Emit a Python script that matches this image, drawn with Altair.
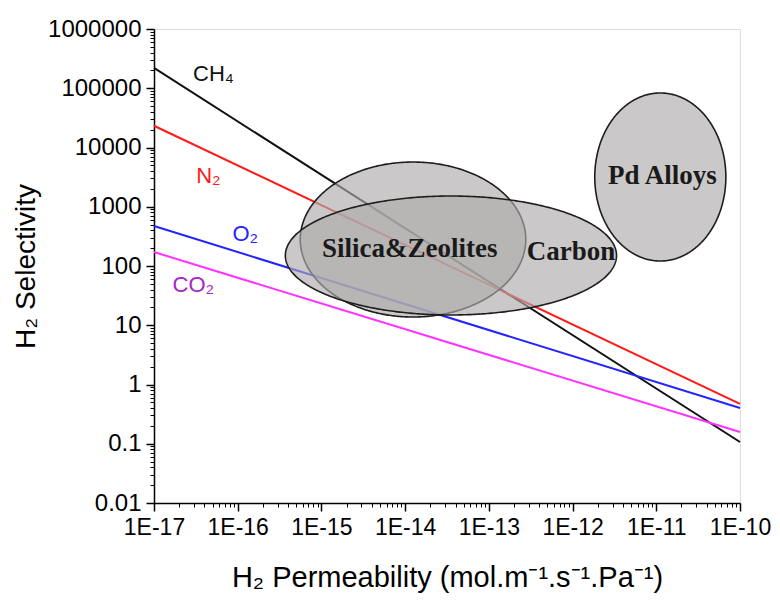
import altair as alt
import numpy as np
import pandas as pd

# ---- data ----
x_ends = [1e-17, 1e-10]
ch4 = [2.2e5, 0.107]
n2 = [2.33e4, 0.47]
o2 = [473.0, 0.40]
co2 = [172.0, 0.158]

series_names = ["CH4", "N2", "O2", "CO2"]
series_values = [ch4, n2, o2, co2]
series_colors = ["#111111", "#ff1a1a", "#2424ff", "#ff33ff"]

label_text = ["CH₄", "N₂", "O₂", "CO₂"]
label_logx = [-16.29, -16.35, -15.91, -16.53]
label_logy = [5.24, 3.52, 2.54, 1.68]
label_colors = ["#111111", "#ff1a1a", "#2424ff", "#a524c8"]

region_names = ["Silica&Zeolites", "Carbon", "Pd Alloys"]
region_cx = [-13.906, -13.453, -10.952]   # log10 permeability centre
region_rx = [1.347, 1.978, 0.783]         # decades
region_cy = [2.447, 2.177, 3.502]         # log10 selectivity centre
region_ry = [1.308, 1.004, 1.418]
region_label_logx = [-13.946, -12.02, -10.927]
region_label_logy = [2.287, 2.236, 3.519]

x_ticks = [1e-17, 1e-16, 1e-15, 1e-14, 1e-13, 1e-12, 1e-11, 1e-10]
y_ticks = [0.01, 0.1, 1, 10, 100, 1000, 10000, 100000, 1000000]

# ---- tables ----
line_rows = []
for name, vals, col in zip(series_names, series_values, series_colors):
    for xv, yv in zip(x_ends, vals):
        line_rows.append({"gas": name, "perm": xv, "sel": yv, "color": col})
lines_df = pd.DataFrame(line_rows)

labels_df = pd.DataFrame({
    "text": label_text,
    "perm": [10 ** v for v in label_logx],
    "sel": [10 ** v for v in label_logy],
    "color": label_colors,
})

reg_labels_df = pd.DataFrame({
    "text": region_names,
    "perm": [10 ** v for v in region_label_logx],
    "sel": [10 ** v for v in region_label_logy],
})

minor_x = [k * 10.0 ** e for e in range(-17, -10) for k in range(2, 10)]
minor_y = [k * 10.0 ** e for e in range(-2, 6) for k in range(2, 10)]

xscale = alt.Scale(type="log", domain=[1e-17, 1e-10], nice=False)
yscale = alt.Scale(type="log", domain=[0.01, 1e6], nice=False)

FONT = "Liberation Sans"

x_major = alt.Axis(
    values=x_ticks, orient="bottom", grid=False, tickSize=8, tickWidth=1.5,
    tickColor="black", domainColor="black", domainWidth=1.5,
    labelFont=FONT, labelFontSize=23, labelColor="black", labelPadding=5,
    labelFlush=False, labelOverlap=False,
    labelExpr="'1E' + round(log(datum.value)/LN10)",
    title="H₂ Permeability (mol.m⁻¹.s⁻¹.Pa⁻¹)",
    titleFont=FONT, titleFontSize=29, titleFontWeight="normal",
    titleColor="black", titlePadding=24,
)
y_major = alt.Axis(
    values=y_ticks, orient="left", grid=False, tickSize=8, tickWidth=1.5,
    tickColor="black", domainColor="black", domainWidth=1.5,
    labelFont=FONT, labelFontSize=24, labelColor="black", labelPadding=5,
    labelFlush=False, labelOverlap=False,
    labelExpr="datum.value < 1 ? format(datum.value, '.2~f') : format(datum.value, 'd')",
    title="H₂ Selectivity",
    titleFont=FONT, titleFontSize=28, titleFontWeight="normal",
    titleColor="black", titlePadding=7,
)
x_minor = alt.Axis(
    values=minor_x, orient="bottom", grid=False, tickSize=4, tickWidth=1,
    tickColor="black", domain=False, labels=False, title="",
)
y_minor = alt.Axis(
    values=minor_y, orient="left", grid=False, tickSize=4, tickWidth=1,
    tickColor="black", domain=False, labels=False, title="",
)

lines = alt.Chart(lines_df).mark_line(strokeWidth=2).encode(
    x=alt.X("perm:Q", scale=xscale, axis=x_major),
    y=alt.Y("sel:Q", scale=yscale, axis=y_major),
    color=alt.Color("color:N", scale=None),
    detail="gas:N",
)

minor_layer = alt.Chart(lines_df).mark_point(opacity=0).encode(
    x=alt.X("perm:Q", scale=xscale, axis=x_minor),
    y=alt.Y("sel:Q", scale=yscale, axis=y_minor),
)

ellipse_layers = []
t = np.linspace(np.pi, 0, 241)
for name, cx, rx, cy, ry in zip(region_names, region_cx, region_rx, region_cy, region_ry):
    df = pd.DataFrame({
        "perm": 10 ** (cx + rx * np.cos(t)),
        "hi": 10 ** (cy + ry * np.sin(t)),
        "lo": 10 ** (cy - ry * np.sin(t)),
    })
    layer = alt.Chart(df).mark_area(
        fill="#aeaaaa", fillOpacity=0.65, stroke="#1e1e1e", strokeWidth=1.6,
    ).encode(
        x=alt.X("perm:Q", scale=xscale, axis=None),
        y=alt.Y("lo:Q", scale=yscale, axis=None),
        y2="hi:Q",
    )
    ellipse_layers.append(layer)

gas_text = alt.Chart(labels_df).mark_text(
    font=FONT, fontSize=22, align="center", baseline="middle",
).encode(
    x=alt.X("perm:Q", scale=xscale, axis=None),
    y=alt.Y("sel:Q", scale=yscale, axis=None),
    text="text:N",
    color=alt.Color("color:N", scale=None),
)

reg_text = alt.Chart(reg_labels_df).mark_text(
    font="Liberation Serif", fontSize=27, fontWeight="bold",
    align="center", baseline="middle", color="#1a1a1a",
).encode(
    x=alt.X("perm:Q", scale=xscale, axis=None),
    y=alt.Y("sel:Q", scale=yscale, axis=None),
    text="text:N",
)

chart = alt.layer(
    minor_layer, lines, *ellipse_layers, gas_text, reg_text,
).resolve_axis(
    x="independent", y="independent",
).properties(
    width=586, height=474,
    padding={"left": 4, "top": 9, "right": 0, "bottom": 2},
).configure_view(
    stroke="black", strokeWidth=1.5,
).configure(background="white")

chart.save("out.html", embed_options={"renderer": "svg", "actions": False})
